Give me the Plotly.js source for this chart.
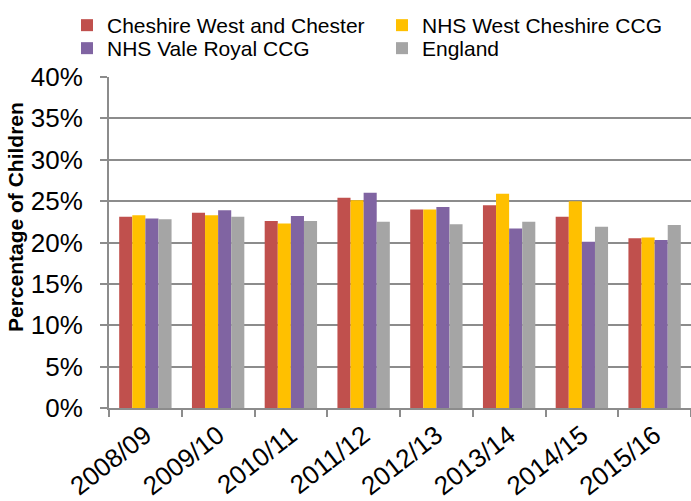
<!DOCTYPE html>
<html>
<head>
<meta charset="utf-8">
<script src="https://cdn.plot.ly/plotly-3.0.1.min.js"></script>
<style>html,body{margin:0;padding:0;background:#fff;overflow:hidden}#chart{width:691px;height:501px}</style>
</head>
<body>
<div id="chart"></div>
<script>
const years = ["2008/09","2009/10","2010/11","2011/12","2012/13","2013/14","2014/15","2015/16"];
const seriesNames = ["Cheshire West and Chester","NHS West Cheshire CCG","NHS Vale Royal CCG","England"];
const cheshireWestChester = [23.1, 23.6, 22.6, 25.4, 24.0, 24.5, 23.1, 20.5];
const nhsWestCheshire     = [23.3, 23.3, 22.3, 25.1, 24.0, 25.9, 25.0, 20.6];
const nhsValeRoyal        = [22.9, 23.9, 23.2, 26.0, 24.3, 21.7, 20.1, 20.3];
const england             = [22.8, 23.1, 22.6, 22.5, 22.2, 22.5, 21.9, 22.1];
const yTickVals = [0,5,10,15,20,25,30,35,40];
const yTickText = ["0%","5%","10%","15%","20%","25%","30%","35%","40%"];
const yTitle = "Percentage of Children";

const colors = ["#C0504D","#FFC000","#8064A2","#A5A5A5"];
const legendRow = ["legend","legend","legend2","legend2"];
const allSeries = [cheshireWestChester, nhsWestCheshire, nhsValeRoyal, england];
const FONT = "Liberation Sans, Arial, sans-serif";

const traces = allSeries.map((vals, i) => ({
  type: "bar",
  name: seriesNames[i],
  x: years,
  y: vals,
  legend: legendRow[i],
  marker: {color: colors[i], line: {width: 0}},
  hoverinfo: "x+y+name"
}));

const legendBase = {
  orientation: "h",
  x: -0.0722, xanchor: "left",
  yanchor: "top",
  font: {family: FONT, size: 21, color: "#000"},
  entrywidth: 270, entrywidthmode: "pixels",
  bgcolor: "rgba(0,0,0,0)",
  traceorder: "normal"
};

const layout = {
  width: 691, height: 501,
  margin: {l: 109, r: 0, t: 77, b: 93, autoexpand: false},
  paper_bgcolor: "#ffffff", plot_bgcolor: "#ffffff",
  font: {family: FONT, color: "#000000"},
  barmode: "group",
  bargap: 0.28,
  bargroupgap: 0,
  showlegend: true,
  legend: Object.assign({}, legendBase, {y: 1.2175}),
  legend2: Object.assign({}, legendBase, {y: 1.148}),
  xaxis: {
    type: "category",
    tickson: "boundaries",
    ticks: "outside", ticklen: 7, tickwidth: 2, tickcolor: "#8c8c8c",
    showline: true, linecolor: "#8c8c8c", linewidth: 2,
    showgrid: false,
    tickangle: -38,
    tickfont: {family: FONT, size: 26, color: "#000"},
    fixedrange: true
  },
  yaxis: {
    range: [0, 40],
    tickvals: yTickVals, ticktext: yTickText,
    ticks: "outside", ticklen: 7, tickwidth: 2, tickcolor: "#8c8c8c",
    showline: true, linecolor: "#8c8c8c", linewidth: 2,
    showgrid: true, gridcolor: "#8c8c8c", gridwidth: 2,
    zeroline: false,
    ticklabelstandoff: 12,
    tickfont: {family: FONT, size: 26, color: "#000"},
    fixedrange: true
  },
  annotations: [{
    text: "<b>" + yTitle + "</b>",
    xref: "paper", yref: "paper",
    x: -0.1615, y: 0.577,
    xanchor: "center", yanchor: "middle",
    textangle: -90, showarrow: false,
    font: {family: FONT, size: 21, color: "#000"}
  }]
};

Plotly.newPlot("chart", traces, layout, {displayModeBar: false, staticPlot: true});
</script>
</body>
</html>
